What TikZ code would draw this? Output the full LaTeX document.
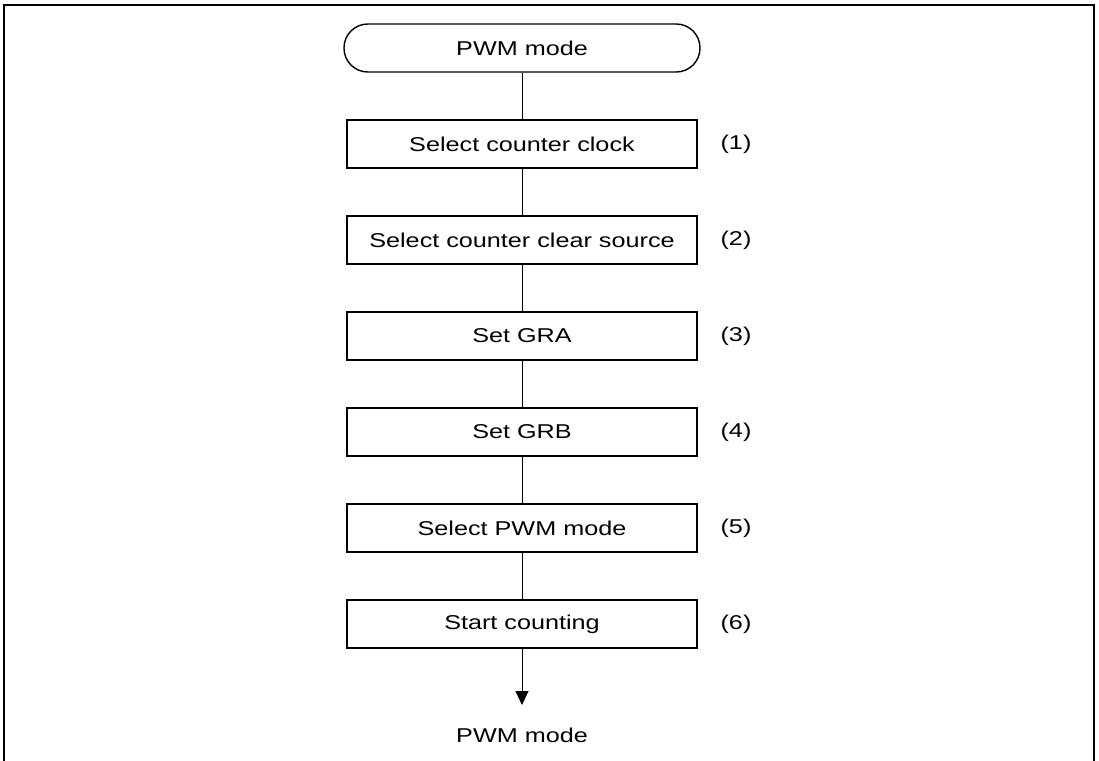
\documentclass[tikz,border=0pt]{standalone}
\usepackage{fontspec}
\setmainfont[FakeStretch=1.26]{Liberation Sans}
\usetikzlibrary{arrows.meta}

\begin{document}
\begin{tikzpicture}[x=0.5pt,y=-0.5pt,
    every node/.style={font=\fontsize{10}{12}\selectfont},
    termbox/.style={draw, line width=0.7pt, rounded corners=11.9pt,
      minimum width=178pt, minimum height=24pt, inner sep=0pt},
    stepbox/.style={draw, line width=0.7pt,
      minimum width=175pt, minimum height=24pt, inner sep=0pt},
    link/.style={line width=0.5pt}]
  \useasboundingbox (0,0) rectangle (1099,761);
  \draw[line width=1pt] (3.5,761) -- (3.5,5) -- (1094,5) -- (1094,761);

  \node[termbox] (start) at (522,48)  {PWM mode};
  \node[stepbox] (s1)    at (522,144) {Select counter clock};
  \node[stepbox] (s2)    at (522,240) {Select counter clear source};
  \node[stepbox] (s3)    at (522,336) {Set GRA};
  \node[stepbox] (s4)    at (522,432) {Set GRB};
  \node[stepbox] (s5)    at (522,528) {Select PWM mode};
  \node[stepbox] (s6)    at (522,624) {Start counting};
  \coordinate (tip) at (522,705);
  \node (finish) at (522,735) {PWM mode};

  \node (n1) at (736,144) {(1)};
  \node (n2) at (736,240) {(2)};
  \node (n3) at (736,336) {(3)};
  \node (n4) at (736,432) {(4)};
  \node (n5) at (736,528) {(5)};
  \node (n6) at (736,624) {(6)};

  \draw[link] (start) -- (s1);
  \draw[link] (s1) -- (s2);
  \draw[link] (s2) -- (s3);
  \draw[link] (s3) -- (s4);
  \draw[link] (s4) -- (s5);
  \draw[link] (s5) -- (s6);
  \draw[link, -{Triangle[width=6.5pt,length=7pt]}] (s6) -- (tip);
\end{tikzpicture}
\end{document}
